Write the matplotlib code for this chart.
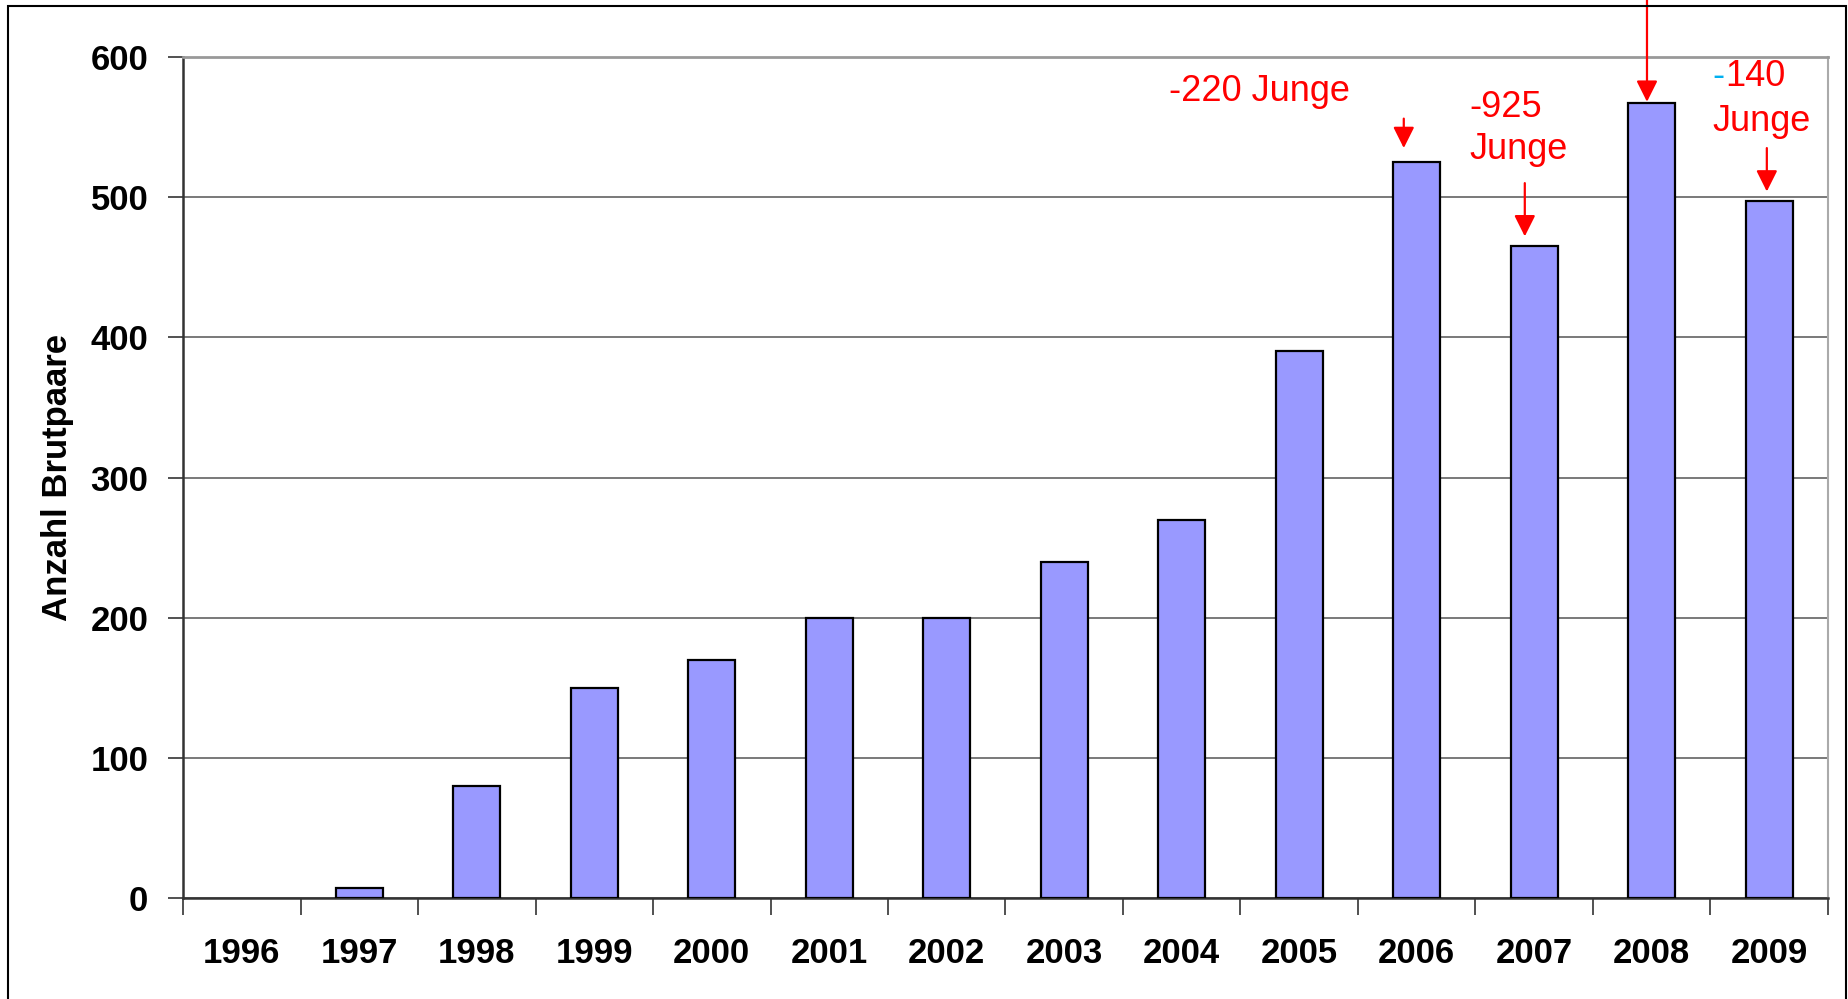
import matplotlib
matplotlib.use("Agg")
import matplotlib.pyplot as plt
from matplotlib.patches import Rectangle
from matplotlib.transforms import offset_copy

plt.rcParams['font.family'] = ['Liberation Sans', 'DejaVu Sans']

years = ['1996', '1997', '1998', '1999', '2000', '2001', '2002',
         '2003', '2004', '2005', '2006', '2007', '2008', '2009']
brutpaare = [0, 7, 80, 150, 170, 200, 200, 240, 270, 390, 525, 465, 567, 497]
yticks = [0, 100, 200, 300, 400, 500, 600]

fig = plt.figure(figsize=(18.49, 9.99), dpi=100)
ax = fig.add_axes([0.099, 0.101, 0.8896, 0.842])

x = list(range(len(years)))
edges = ['black' if v > 0 else 'none' for v in brutpaare]
ax.bar(x, brutpaare, width=0.4, color='#9999FF', edgecolor=edges, linewidth=1.6, zorder=3)

ax.set_xlim(-0.5, len(years) - 0.5)
ax.set_ylim(0, 600)
ax.set_yticks(yticks)
ax.set_yticklabels([str(t) for t in yticks], fontsize=25, fontweight='bold')
ax.set_xticks([i - 0.5 for i in range(len(years) + 1)])
ax.set_xticklabels([])
ax.set_xticks(x, minor=True)
ax.set_xticklabels(years, minor=True, fontsize=25, fontweight='bold')
ax.tick_params(axis='x', which='minor', length=0, pad=28)
ax.tick_params(axis='x', which='major', length=12, width=1.2, color='#333333')
ax.tick_params(axis='y', length=11, width=1.2, color='#333333', pad=14)
ax.set_ylabel('Anzahl Brutpaare', fontsize=25, fontweight='bold', labelpad=12)

ax.grid(axis='y', color='#555555', linewidth=1.1, zorder=0)
ax.spines['left'].set_color('#333333')
ax.spines['left'].set_linewidth(1.8)
ax.spines['bottom'].set_color('#333333')
ax.spines['bottom'].set_linewidth(1.8)
ax.spines['top'].set_color('#999999')
ax.spines['top'].set_linewidth(2)
ax.spines['right'].set_color('#aaaaaa')
ax.spines['right'].set_linewidth(1.5)

red = '#FF0000'
arrow = dict(arrowstyle='-|>', color=red, lw=1.6, mutation_scale=32, shrinkA=0, shrinkB=0)

# 2006
ax.text(8.66, 575, '-220 Junge', color=red, fontsize=26, ha='center', va='center')
ax.annotate('', xy=(9.89, 535), xytext=(9.89, 556), arrowprops=arrow)
# 2007
ax.text(10.45, 549, '-925\nJunge', color=red, fontsize=26, ha='left', va='center', linespacing=1.25)
ax.annotate('', xy=(10.92, 472), xytext=(10.92, 510), arrowprops=arrow)
# 2008 (label outside the picture)
ax.annotate('', xy=(11.96, 568), xytext=(11.96, 660), arrowprops=arrow, annotation_clip=False)
# 2009
ax.text(12.52, 586, '-', color='#00B0F0', fontsize=26, ha='left', va='center')
ax.text(12.52, 586, '140', color=red, fontsize=26, ha='left', va='center',
        transform=offset_copy(ax.transData, fig=fig, x=8.7, units='points'))
ax.text(12.52, 554, 'Junge', color=red, fontsize=26, ha='left', va='center')
ax.annotate('', xy=(12.98, 504), xytext=(12.98, 535), arrowprops=arrow)

fig.patches.append(Rectangle((8 / 1849, -0.01), (1846 - 8) / 1849, 1.01 - 6 / 999,
                             transform=fig.transFigure, fill=False, edgecolor='black', linewidth=1.5))

fig.savefig('out.png', dpi=100)
